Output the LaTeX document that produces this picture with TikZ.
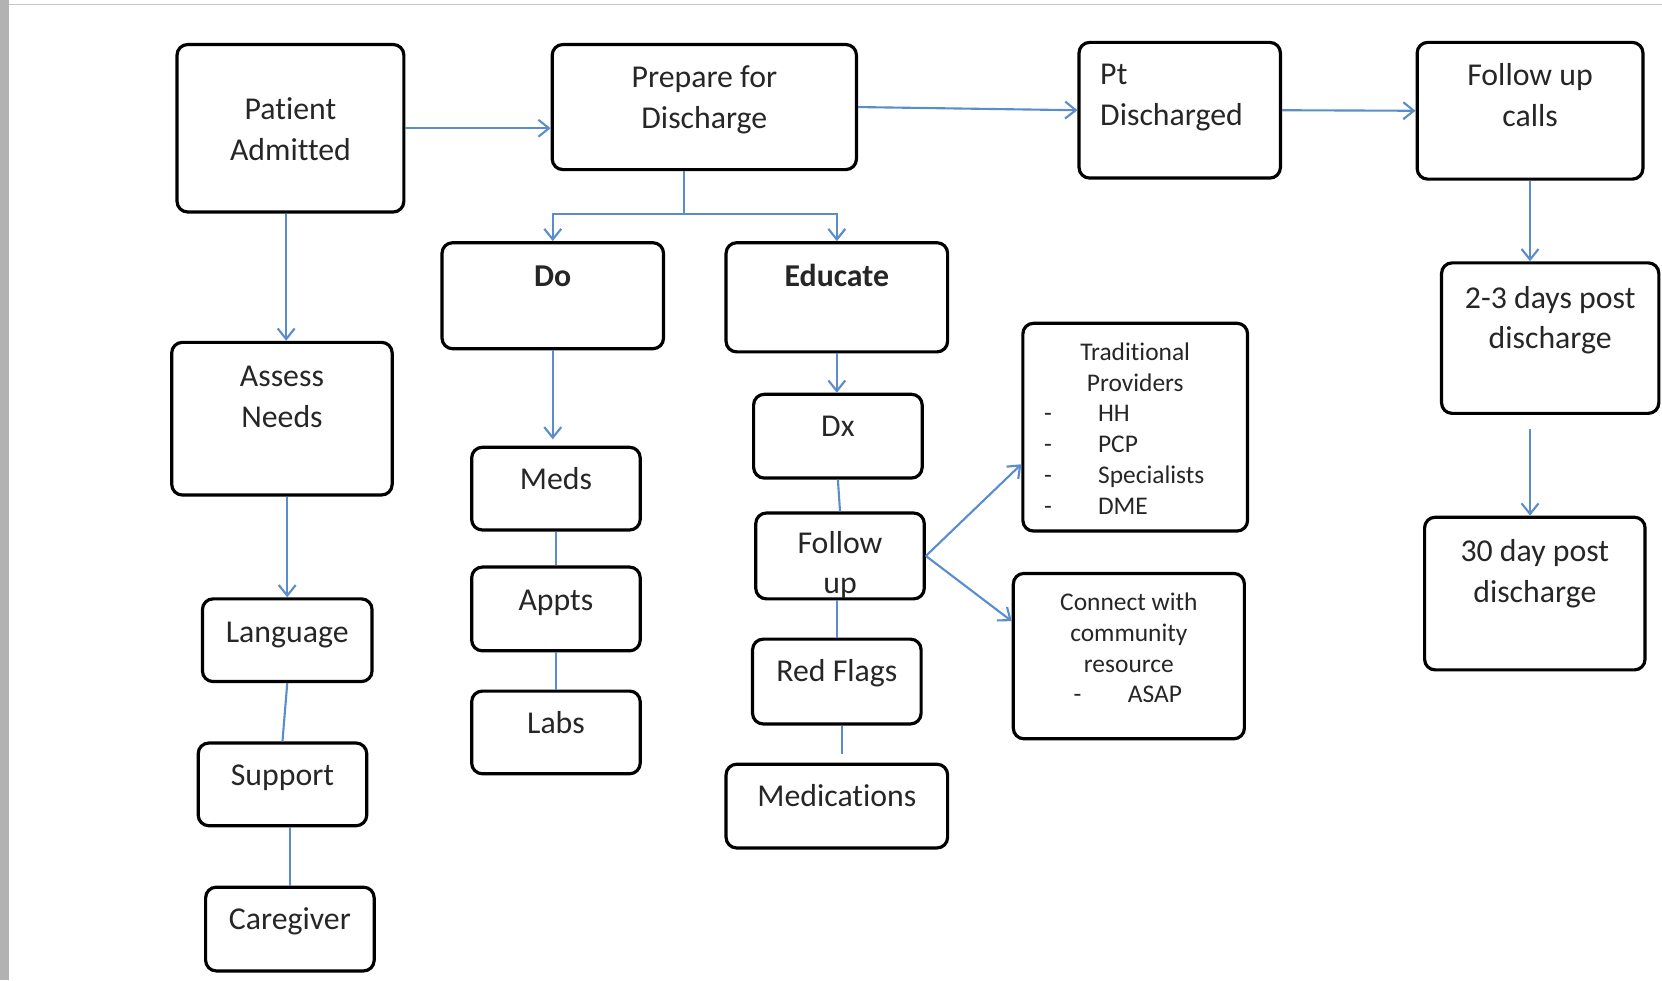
\documentclass[tikz,border=0pt]{standalone}
\usepackage{fontspec}
\setmainfont{Carlito}[Ligatures=NoCommon]
\usetikzlibrary{arrows.meta}

\definecolor{linkblue}{RGB}{91,141,204}
\newcommand{\stack}[2][@{}c@{}]{\begin{tabular}[t]{#1}#2\end{tabular}}
\newcommand{\dashitem}[2]{\makebox[#1][l]{\makebox[51pt][l]{-}#2}}

\begin{document}
\begin{tikzpicture}[x=1pt,y=-1pt,
  box/.style={draw,line width=3pt,rounded corners=10pt,inner sep=0pt,text=black!85,
    font=\fontsize{30}{38}\selectfont,text height=41pt},
  small box/.style={box,font=\fontsize{24}{29}\selectfont,text height=35pt},
  link/.style={draw=linkblue,line width=2pt},
  arrow/.style={link,-{Straight Barb[length=10pt,width=16pt]}}]

  \useasboundingbox (0,0) rectangle (1568,925);
  \fill[gray!60] (0,0) rectangle (8.5,925);
  \draw[gray!45,line width=1pt] (8.5,4) -- (1568,4);

  % admission and discharge row
  \node[box,minimum width=214pt,text height=71pt,text depth=87pt] (admit) at (274,121) {\stack{Patient\\Admitted}};
  \node[box,minimum width=287pt,text depth=77pt] (prep) at (664.5,101) {\stack{Prepare for\\Discharge}};
  \node[box,minimum width=190pt,text height=40pt,text depth=88pt] (out) at (1113,104) {\stack[@{\hspace{20pt}}p{170pt}@{}]{Pt\\Discharged}};
  \node[box,minimum width=213pt,text depth=88pt] (calls) at (1443.5,104.5) {\stack{Follow up\\calls}};

  % needs
  \node[box,minimum width=208pt,text height=42pt,text depth=102pt] (assess) at (266,395) {\stack{Assess\\Needs}};
  \node[box,minimum width=160pt,text depth=37pt] (lang) at (271,604) {Language};
  \node[box,minimum width=159pt,text height=40pt,text depth=38pt] (support) at (266.5,740) {Support};
  \node[box,minimum width=159pt,text height=40pt,text depth=39pt] (carer) at (273.5,876.5) {Caregiver};

  % do
  \node[box,minimum width=209pt,text depth=59pt] (do) at (521.5,279) {\textbf{Do}};
  \node[box,minimum width=159pt,text height=40pt,text depth=38pt] (meds) at (524.5,461) {Meds};
  \node[box,minimum width=159pt,text depth=38pt] (appts) at (524.5,574.5) {Appts};
  \node[box,minimum width=159pt,text height=40pt,text depth=38pt] (labs) at (524.5,691) {Labs};

  % educate
  \node[box,minimum width=209pt,text depth=62pt] (educate) at (789.5,280.5) {\textbf{Educate}};
  \node[box,minimum width=159pt,text height=40pt,text depth=39pt] (dx) at (790.5,411.5) {Dx};
  \node[box,minimum width=159pt,text height=38pt,text depth=43pt] (followup) at (792.5,524.5) {\stack{Follow\\up}};
  \node[box,minimum width=159pt,text height=40pt,text depth=40pt] (flags) at (789.5,643) {Red Flags};
  \node[box,minimum width=209pt,text height=40pt,text depth=39pt] (medic) at (789.5,760.5) {Medications};
  \node[small box,minimum width=212pt,text depth=161pt] (trad) at (1071,403)
    {\stack{Traditional\\Providers\\\dashitem{172pt}{HH}\\\dashitem{172pt}{PCP}\\\dashitem{172pt}{Specialists}\\\dashitem{172pt}{DME}}};
  \node[small box,minimum width=218pt,text depth=121pt] (connect) at (1065,619)
    {\stack{Connect with\\community\\resource\\\dashitem{104pt}{ASAP}}};

  % calls
  \node[box,minimum width=205pt,text height=43pt,text depth=99pt] (days) at (1462.5,319) {\stack{2-3 days post\\discharge}};
  \node[box,minimum width=208pt,text height=42pt,text depth=102pt] (month) at (1448,560) {\stack{30 day post\\discharge}};

  \coordinate (fork) at (645,202);

  \draw[arrow] (admit.east) -- (admit.east -| prep.west);
  \draw[arrow] (prep.east) -- (out.west);
  \draw[arrow] (out.east) -- (calls.west);
  \draw[link] (prep.south -| fork) -- (fork);
  \draw[arrow] (fork) -| (do.north);
  \draw[arrow] (fork) -| (educate.north);

  \draw[arrow] ([xshift=-4pt]admit.south) -- ([xshift=-4pt]admit.south |- assess.north);
  \draw[arrow] (lang.north |- assess.south) -- (lang.north);
  \draw[link] (lang.south) -- (support.north);
  \draw[link] (carer.north |- support.south) -- (carer.north);

  \draw[arrow,shorten >=6pt] (do.south) -- (do.south |- meds.north);
  \draw[link] (meds.south) -- (appts.north);
  \draw[link] (appts.south) -- (labs.north);

  \draw[arrow] (educate.south) -- (educate.south |- dx.north);
  \draw[link] (dx.south) -- (followup.north);
  \draw[link] (flags.north |- followup.south) -- (flags.north);
  \draw[link,shorten >=8pt] ([xshift=5pt]flags.south) -- ([xshift=5pt]flags.south |- medic.north);
  \draw[arrow] (followup.east) -- ([yshift=-35pt]trad.west);
  \draw[arrow] (followup.east) -- ([yshift=33pt]connect.west);

  \draw[arrow] (calls.south) -- (calls.south |- days.north);
  \draw[arrow] ([yshift=-13pt]days.south -| calls.south) -- (calls.south |- month.north);
\end{tikzpicture}
\end{document}
